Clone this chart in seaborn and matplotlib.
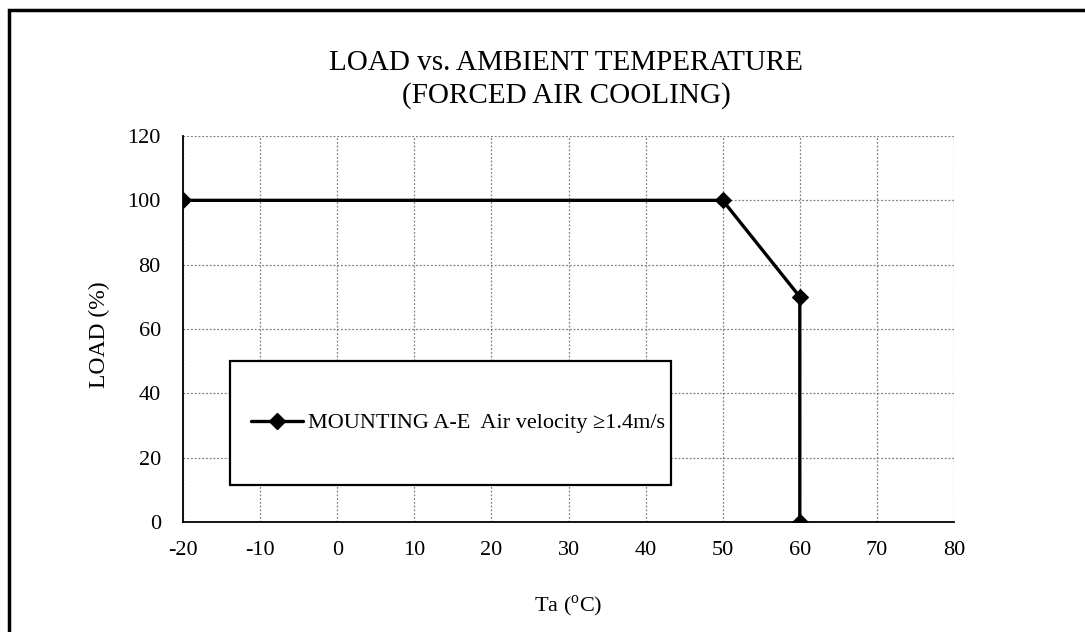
import matplotlib
matplotlib.use("Agg")
import matplotlib.pyplot as plt
import seaborn as sns
import pandas as pd
from matplotlib.patches import Rectangle
from matplotlib.lines import Line2D

# data
temp_c = [-20, 50, 60, 60]
load_pct = [100, 100, 70, 0]
series_label = "MOUNTING A-E  Air velocity \u22651.4m/s"
x_ticks = [-20, -10, 0, 10, 20, 30, 40, 50, 60, 70, 80]
y_ticks = [0, 20, 40, 60, 80, 100, 120]

sns.set_theme(style="white")
plt.rcParams["font.family"] = ["Liberation Serif", "DejaVu Serif"]
plt.rcParams["mathtext.fontset"] = "custom"
plt.rcParams["mathtext.rm"] = "Liberation Serif"
plt.rcParams["axes.unicode_minus"] = False
plt.rcParams["text.color"] = "black"
plt.rcParams["axes.labelcolor"] = "black"

df = pd.DataFrame({"Ta": temp_c, "LOAD": load_pct})

fig = plt.figure(figsize=(10.85, 6.32), dpi=100)
ax = fig.add_axes([183 / 1085, 1 - 522 / 632, (954 - 183) / 1085, (522 - 136) / 632])

sns.lineplot(data=df, x="Ta", y="LOAD", sort=False, estimator=None, ax=ax,
             color="black", linewidth=2.4, marker="D", markersize=8,
             markeredgecolor="black", legend=False)

ax.set_xlim(-20, 80)
ax.set_ylim(0, 120)
ax.set_xticks(x_ticks)
ax.set_yticks(y_ticks)
ax.tick_params(axis="both", length=0, labelsize=16, colors="black")
ax.tick_params(axis="x", pad=14)
ax.tick_params(axis="y", pad=16)
ax.grid(True, color="#808080", linestyle=(0, (1.5, 1.5)), linewidth=0.9)
ax.set_axisbelow(True)

for side in ["top", "right"]:
    ax.spines[side].set_visible(False)
for side in ["left", "bottom"]:
    ax.spines[side].set_color("black")
    ax.spines[side].set_linewidth(1.3)

ax.set_xlabel("Ta ($^{\\mathrm{o}}$C)", fontsize=16, labelpad=24)
ax.set_ylabel("LOAD (%)", fontsize=17)
ax.yaxis.set_label_coords(-0.095, 0.484)

fig.text(566 / 1085, 1 - 63 / 632, "LOAD vs. AMBIENT TEMPERATURE",
         ha="center", va="center", fontsize=21)
fig.text(566 / 1085, 1 - 96 / 632, "(FORCED AIR COOLING)",
         ha="center", va="center", fontsize=21)

# legend box
box = Rectangle((230 / 1085, 1 - 485 / 632), (671 - 230) / 1085, (485 - 361) / 632,
                transform=fig.transFigure, facecolor="white", edgecolor="black",
                linewidth=1.6, zorder=3, clip_on=False)
ax.add_patch(box)
handle = Line2D([], [], color="black", linewidth=2.4, marker="D", markersize=8)
leg = ax.legend([handle], [series_label], loc="center left",
                bbox_to_anchor=(231 / 1085, 1 - 423 / 632),
                bbox_transform=fig.transFigure, frameon=False, fontsize=16,
                handlelength=2.35, handletextpad=0.2)
leg.set_zorder(4)

# outer chart frame
frame = Rectangle((9 / 1085, -0.1), 1.2, 1 - 10 / 632 + 0.1,
                  transform=fig.transFigure, fill=False, edgecolor="black",
                  linewidth=2.5, clip_on=False)
fig.add_artist(frame)

fig.savefig("out.png", dpi=100, facecolor="white")
